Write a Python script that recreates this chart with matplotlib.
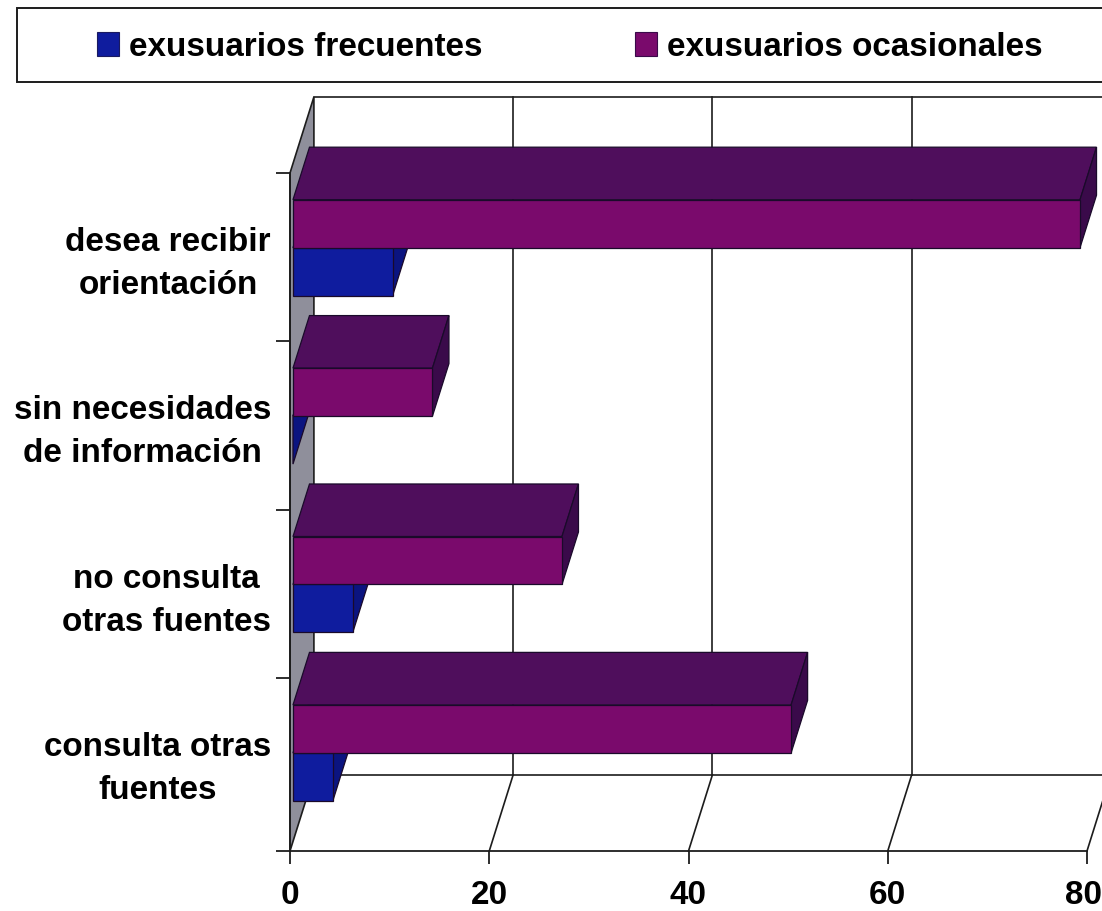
#!/usr/bin/env python3

import matplotlib.pyplot as plt
import numpy as np
from matplotlib.patches import Patch, Polygon, Rectangle
from matplotlib.transforms import ScaledTranslation

# listed from the bottom of the chart upwards
categories = [
    "consulta otras\nfuentes",
    "no consulta\notras fuentes",
    "sin necesidades\nde información",
    "desea recibir\norientación",
]
frecuentes = [4, 6, 0, 10]
ocasionales = [50, 27, 14, 79]
series_names = ["exusuarios frecuentes", "exusuarios ocasionales"]
value_ticks = [0, 20, 40, 60, 80]

# how far the full depth of the box shifts a point, in data units
DEPTH_X = 2.40
DEPTH_Y = 0.452
BAR_FRONT = 0.125
BAR_BACK = 0.815
BAR_HEIGHT = 0.285
# the floor sits slightly below the first category boundary
FLOOR = -0.026
LINE = "#1c1c1c"
FONT_PX = 33.3


def shifted(x, y, depth):
    return (x + depth * DEPTH_X, y + depth * DEPTH_Y)


def draw_face(ax, points, color, zorder):
    ax.add_patch(
        Polygon(
            points,
            closed=True,
            facecolor=color,
            edgecolor="#1a0a2a",
            linewidth=0.9,
            joinstyle="miter",
            clip_on=False,
            zorder=zorder,
        )
    )


def draw_bar(ax, value, y0, y1, front, top, side, zorder):
    f0, b0 = BAR_FRONT, BAR_BACK
    draw_face(
        ax,
        [shifted(0, y1, f0), shifted(value, y1, f0), shifted(value, y1, b0), shifted(0, y1, b0)],
        top,
        zorder,
    )
    draw_face(
        ax,
        [shifted(value, y0, f0), shifted(value, y1, f0), shifted(value, y1, b0), shifted(value, y0, b0)],
        side,
        zorder,
    )
    if value > 0:
        draw_face(
            ax,
            [shifted(0, y0, f0), shifted(value, y0, f0), shifted(value, y1, f0), shifted(0, y1, f0)],
            front,
            zorder,
        )


def draw_box(ax, y_max):
    x_max = value_ticks[-1]
    floor_back = FLOOR + DEPTH_Y
    wall = [shifted(0, FLOOR, 0), shifted(0, FLOOR, 1), shifted(0, y_max, 1), shifted(0, y_max, 0)]
    ax.add_patch(
        Polygon(wall, closed=True, facecolor="#8f8f9b", edgecolor=LINE, linewidth=1.2, clip_on=False, zorder=1)
    )
    for value in value_ticks[1:]:
        back_x, back_y = shifted(value, FLOOR, 1)
        ax.plot([value, back_x], [FLOOR, back_y], color=LINE, lw=1.2, clip_on=False, zorder=1)
        ax.plot([back_x, back_x], [back_y, y_max + DEPTH_Y], color=LINE, lw=1.2, clip_on=False, zorder=1)
    far_x = x_max + DEPTH_X
    ax.plot([DEPTH_X, far_x], [floor_back, floor_back], color=LINE, lw=1.2, clip_on=False, zorder=1)
    ax.plot([DEPTH_X, far_x], [y_max + DEPTH_Y] * 2, color=LINE, lw=1.2, clip_on=False, zorder=1)


def main():
    plt.rcParams["font.family"] = ["Liberation Sans", "DejaVu Sans"]
    plt.rcParams["font.weight"] = "bold"
    fig = plt.figure(figsize=(11.02, 9.11), dpi=100)
    font_size = FONT_PX * 72 / 100

    ax = fig.add_axes([290 / 1102, 1 - 851 / 911, 797 / 1102, 678 / 911])
    y_max = len(categories)
    ax.set_xlim(value_ticks[0], value_ticks[-1])
    ax.set_ylim(FLOOR, y_max)
    ax.spines["top"].set_visible(False)
    ax.spines["right"].set_visible(False)
    for side in ("left", "bottom"):
        ax.spines[side].set_color(LINE)
        ax.spines[side].set_linewidth(1.3)

    ax.set_xticks(value_ticks)
    ax.set_yticks([FLOOR, *np.arange(1, y_max + 1)])
    ax.set_yticklabels([])
    ax.set_yticks(np.arange(y_max) + 0.5, categories, minor=True)
    ax.tick_params(axis="x", length=9.5, width=1.3, color=LINE, pad=11.7, labelsize=font_size)
    ax.tick_params(axis="y", which="major", length=10, width=1.3, color=LINE)
    ax.tick_params(axis="y", which="minor", length=0, pad=13.7, labelsize=font_size)

    # nudge the category labels up and keep the last value label on the canvas
    label_lift = ScaledTranslation(0, 3 / 100, fig.dpi_scale_trans)
    for label in ax.get_yticklabels(minor=True):
        label.set_multialignment("center")
        label.set_linespacing(1.5)
        label.set_transform(label.get_transform() + label_lift)
    last_label = ax.get_xticklabels()[-1]
    last_label.set_transform(
        last_label.get_transform() + ScaledTranslation(-3.5 / 100, 0, fig.dpi_scale_trans)
    )

    draw_box(ax, y_max)

    for i in range(y_max):
        center = i + 0.5
        draw_bar(ax, frecuentes[i], center - BAR_HEIGHT, center, "#0f1c9e", "#0c1688", "#0b1480", 3)
        draw_bar(ax, ocasionales[i], center, center + BAR_HEIGHT, "#7a0a6c", "#4f0e5c", "#3a0a4a", 3)

    # legend frame runs off the right side of the canvas
    fig.add_artist(
        Rectangle(
            (17 / 1102, 1 - 82 / 911),
            1110 / 1102,
            74 / 911,
            transform=fig.transFigure,
            facecolor="white",
            edgecolor=LINE,
            linewidth=1.4,
            clip_on=False,
        )
    )
    handles = [
        Patch(facecolor="#0f1c9e", edgecolor="#1a1a60", linewidth=0.8),
        Patch(facecolor="#7a0a6c", edgecolor="#3a0a4a", linewidth=0.8),
    ]
    fig.legend(
        handles,
        series_names,
        ncols=2,
        frameon=False,
        loc="center left",
        bbox_to_anchor=(97 / 1102, 1 - 47 / 911),
        fontsize=font_size,
        borderpad=0,
        borderaxespad=0,
        handlelength=0.66,
        handleheight=0.75,
        handletextpad=0.3,
        columnspacing=4.57,
    )

    fig.savefig("out.png", dpi=100)


if __name__ == "__main__":
    main()
